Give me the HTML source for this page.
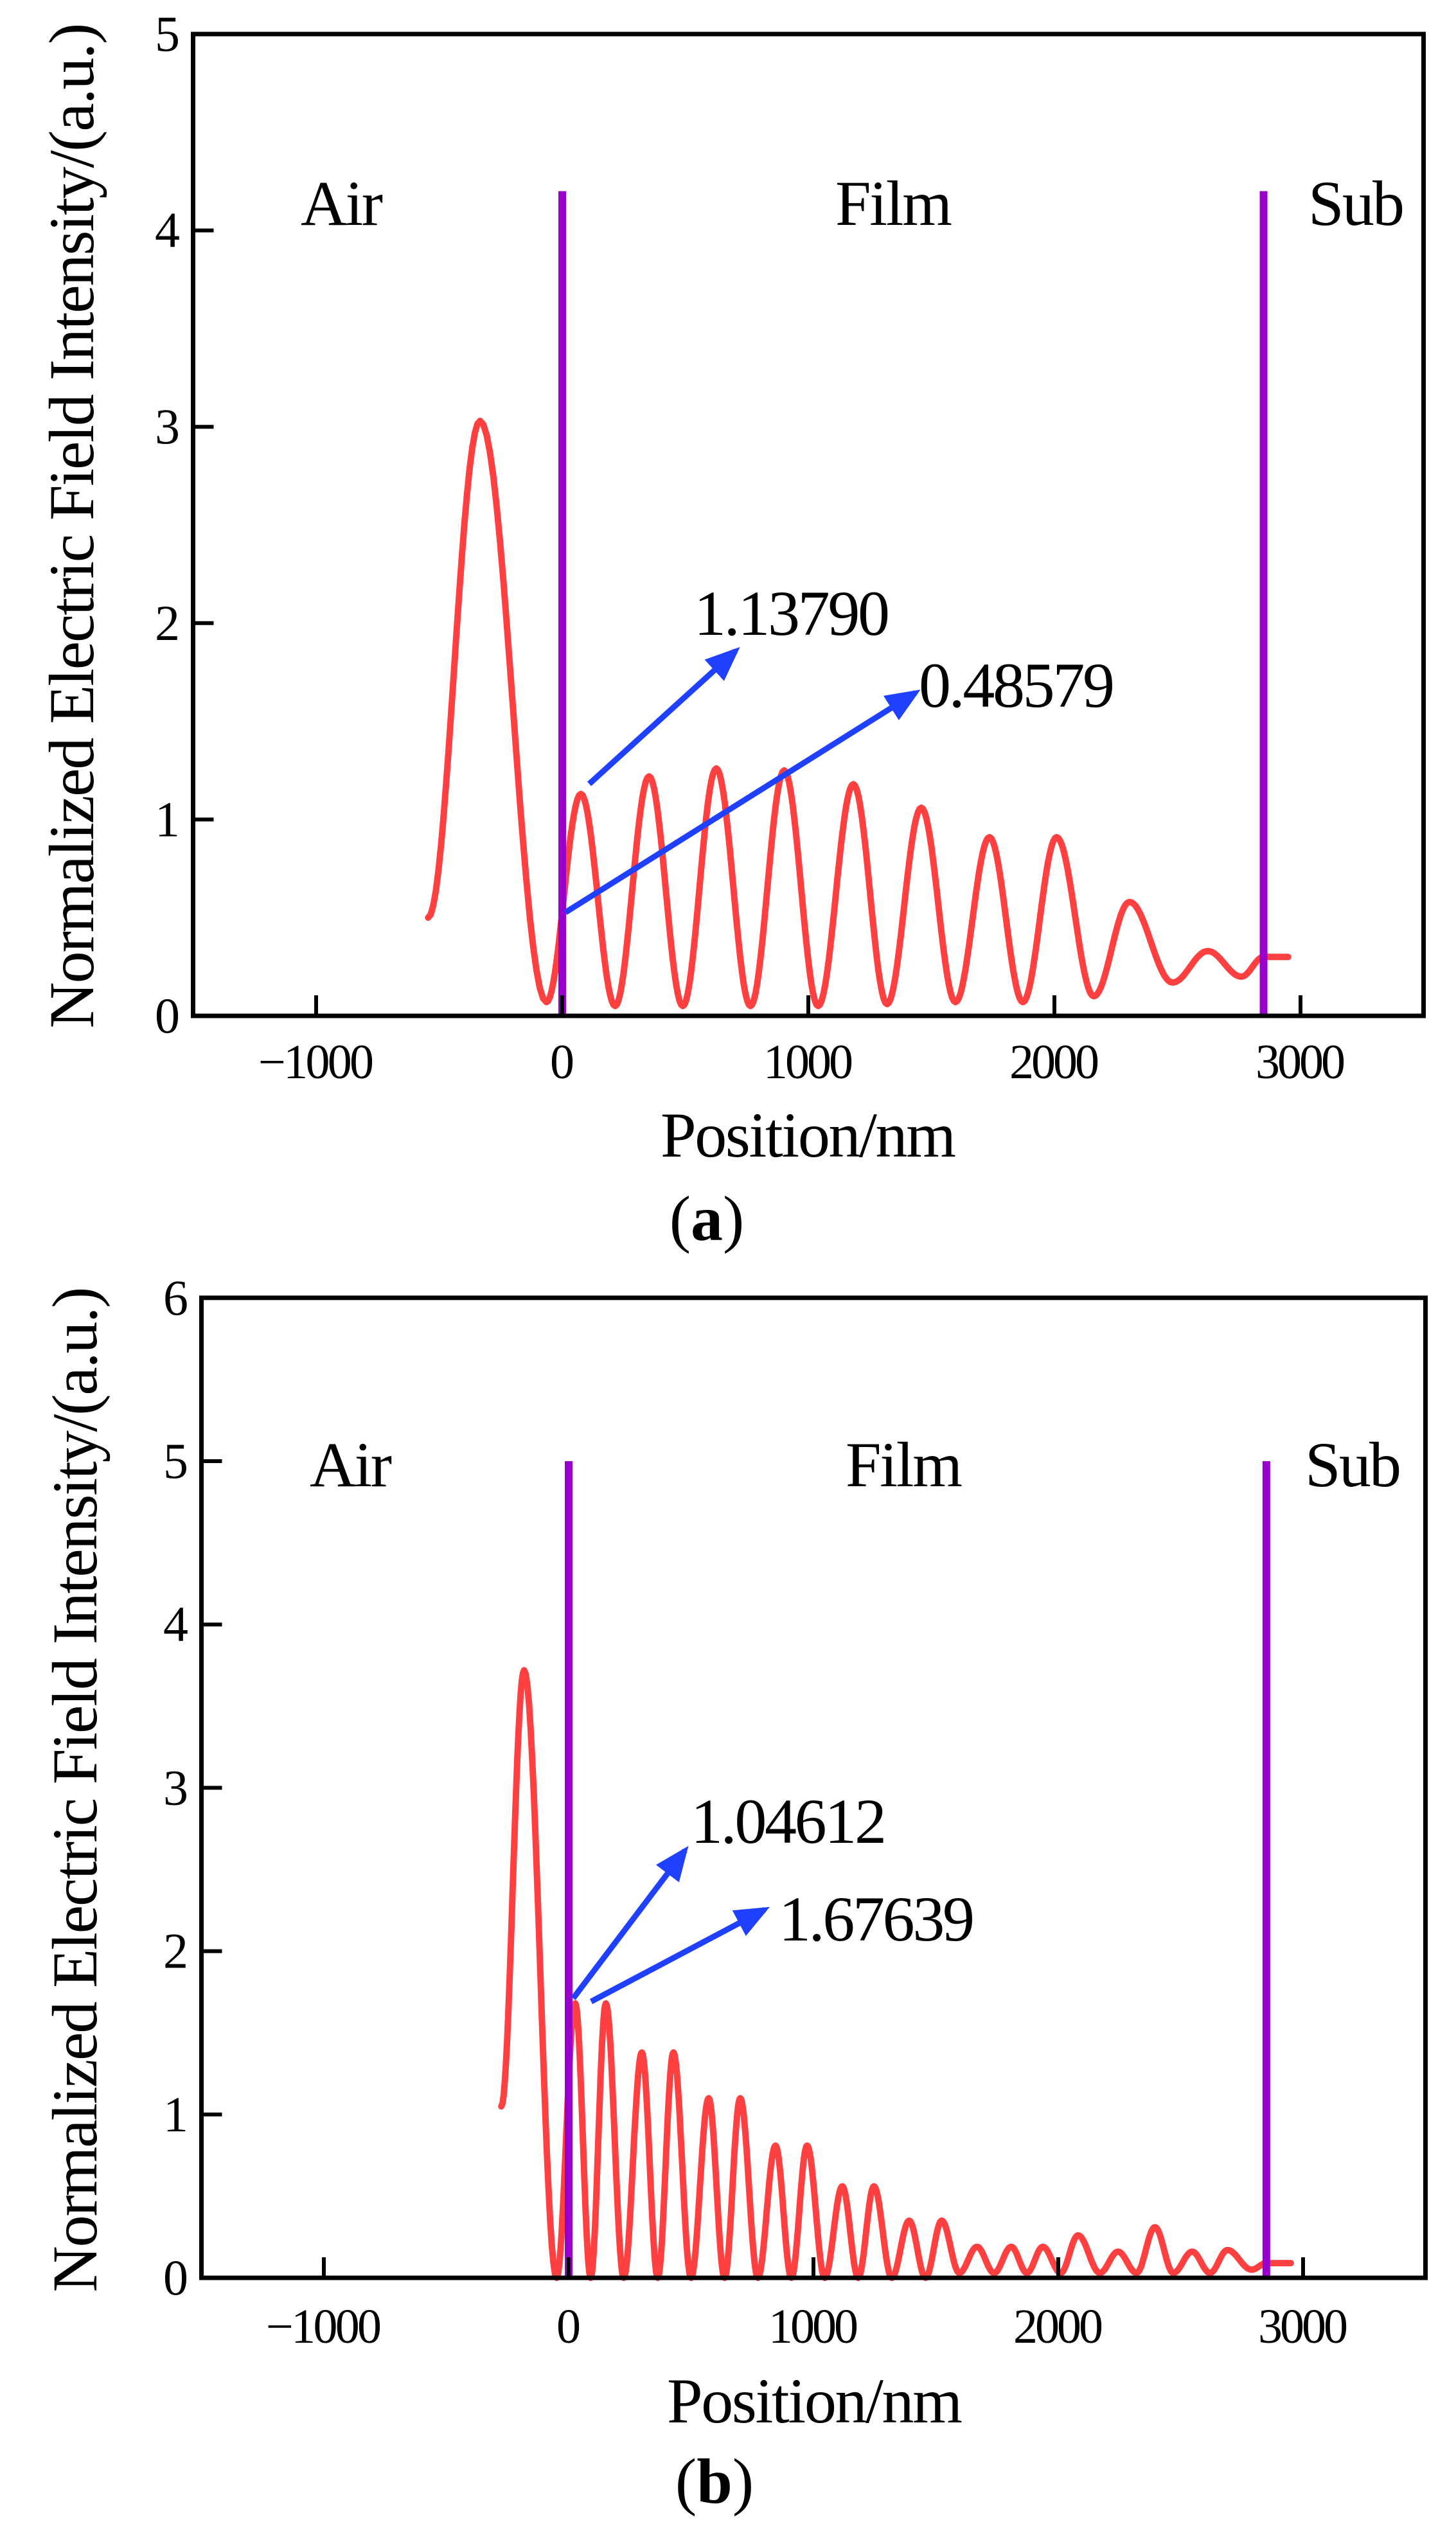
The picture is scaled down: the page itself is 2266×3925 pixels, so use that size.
<!DOCTYPE html>
<html><head><meta charset="utf-8"><style>html,body{margin:0;padding:0;background:#fff}svg{display:block}text{font-family:"Liberation Serif",serif;fill:#000}</style></head>
<body>
<svg id="s" width="2266" height="3925" viewBox="0 0 2266 3925" xmlns="http://www.w3.org/2000/svg">
<defs>
<marker id="ah" markerWidth="6" markerHeight="5" refX="5" refY="2.5" orient="auto" markerUnits="strokeWidth"><path d="M0,0 L6,2.5 L0,5 Z" fill="#2040ff"/></marker>
</defs>
<g id="A"></g>
<g id="B"></g>
<g font-size="100">
<text x="468" y="350" textLength="128">Air</text><text x="1300" y="350" textLength="182">Film</text><text x="2036" y="350" textLength="150">Sub</text>
<text x="482" y="2313" textLength="128">Air</text><text x="1316" y="2313" textLength="182">Film</text><text x="2031" y="2313" textLength="150">Sub</text>
<text x="1258" y="1800" text-anchor="middle" textLength="460">Position/nm</text>
<text x="1268" y="3770" text-anchor="middle" textLength="460">Position/nm</text>
<text transform="translate(145,818) rotate(-90)" text-anchor="middle" textLength="1565">Normalized Electric Field Intensity/(a.u.)</text>
<text transform="translate(150,2785) rotate(-90)" text-anchor="middle" textLength="1565">Normalized Electric Field Intensity/(a.u.)</text>
<text x="1080" y="988" textLength="305">1.13790</text><text x="1430" y="1100" textLength="305">0.48579</text>
<text x="1075" y="2868" textLength="305">1.04612</text><text x="1212" y="3020" textLength="305">1.67639</text>
<text x="1100" y="1930" text-anchor="middle">(<tspan font-weight="bold">a</tspan>)</text>
<text x="1112" y="3895" text-anchor="middle">(<tspan font-weight="bold">b</tspan>)</text>
</g>
</svg>
<script>
function build(gid,o){
 var g=document.getElementById(gid),h='';
 var X=function(x){return o.x0+x*o.sx/1000},Y=function(v){return o.y0-v*o.sy};
 var e=o.ext,d='';
 for(var i=0;i<e.length-1;i++){var a=e[i],b=e[i+1];
  for(var k=0;k<=20;k++){var t=k/20,x=a[0]+(b[0]-a[0])*t,v=a[1]+(b[1]-a[1])*(1-Math.cos(Math.PI*t))/2;
   d+=(d?'L':'M')+X(x).toFixed(1)+','+Y(v).toFixed(1);}}
 h+='<path d="'+d+'" fill="none" stroke="#ff4040" stroke-width="10" stroke-linejoin="round" stroke-linecap="round"/>';
 o.purple.forEach(function(p){h+='<line x1="'+X(p)+'" x2="'+X(p)+'" y1="'+Y(o.ptop)+'" y2="'+o.y0+'" stroke="#9900cc" stroke-width="12"/>';});
 var L=X(-1500),R=X(3500),T=Y(o.ymax);
 h+='<rect x="'+L+'" y="'+T+'" width="'+(R-L)+'" height="'+(o.y0-T)+'" fill="none" stroke="#000" stroke-width="7"/>';
 [-1000,0,1000,2000,3000].forEach(function(x){h+='<line x1="'+X(x)+'" x2="'+X(x)+'" y1="'+o.y0+'" y2="'+(o.y0-32)+'" stroke="#000" stroke-width="6"/>';
  h+='<text x="'+X(x)+'" y="'+o.ty+'" font-size="76" text-anchor="middle" textLength="'+(x<0?180:String(x).length*35)+'">'+(x<0?'\u22121000':x)+'</text>';});
 for(var v=0;v<=o.ymax;v++){h+='<line x1="'+L+'" x2="'+(L+32)+'" y1="'+Y(v)+'" y2="'+Y(v)+'" stroke="#000" stroke-width="6"/>';
  h+='<text x="'+(L-40)+'" y="'+(Y(v)+26)+'" font-size="78" text-anchor="middle" textLength="33">'+v+'</text>';}
 o.arrows.forEach(function(a){h+='<line x1="'+a[0]+'" y1="'+a[1]+'" x2="'+a[2]+'" y2="'+a[3]+'" stroke="#2040ff" stroke-width="9" marker-end="url(#ah)"/>';});
 g.innerHTML=h;
}
build('A',{x0:875,sx:383,y0:1581,sy:305.6,ymax:5,ptop:4.2,purple:[0,2850],ty:1678,
 ext:[[-545,0.5],[-334,3.03],[-64,0.07],[76,1.13],[215,0.05],[353,1.22],[490,0.05],[626,1.26],[765,0.05],[902,1.25],[1040,0.05],[1183,1.18],[1320,0.06],[1459,1.06],[1598,0.07],[1736,0.91],[1872,0.07],[2009,0.91],[2160,0.1],[2305,0.58],[2480,0.17],[2623,0.33],[2760,0.2],[2850,0.3],[2870,0.3],[2950,0.3]],
 arrows:[[917,1220,1145,1013],[880,1420,1425,1078]]});
build('B',{x0:885,sx:381,y0:3545,sy:254.2,ymax:6,ptop:5,purple:[0,2850],ty:3646,
 ext:[[-275,1.05],[-182,3.72],[-49,0.0],[27,1.68],[90,0.0],[152,1.68],[225,0.0],[299,1.38],[364,0.0],[428,1.38],[500,0.0],[572,1.1],[637,0.0],[701,1.1],[773,0.0],[845,0.81],[910,0.0],[974,0.81],[1046,0.0],[1118,0.56],[1183,0.0],[1247,0.56],[1320,0.0],[1391,0.35],[1458,0.0],[1524,0.35],[1596,0.03],[1668,0.19],[1738,0.03],[1808,0.19],[1872,0.03],[1937,0.19],[2010,0.03],[2081,0.26],[2170,0.03],[2244,0.16],[2320,0.03],[2395,0.31],[2470,0.03],[2547,0.16],[2620,0.03],[2691,0.17],[2790,0.05],[2850,0.09],[2950,0.09]],
 arrows:[[892,3110,1066,2880],[920,3115,1190,2972]]});
</script>
</body></html>
